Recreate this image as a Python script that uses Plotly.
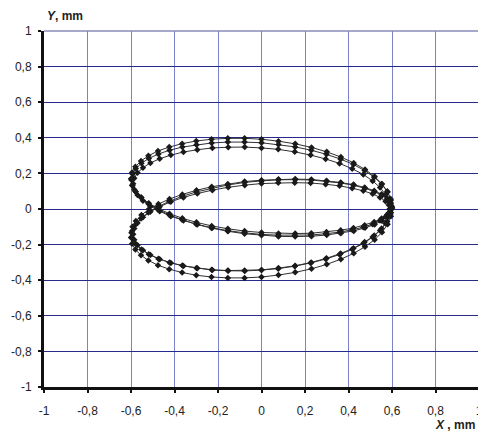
import plotly.graph_objects as go

# ---- data (three successive passes of the orbit) ----
x_pass1 = [0.598, 0.593, 0.578, 0.552, 0.518, 0.474, 0.423, 0.364, 0.299, 0.229, 0.155, 0.078,
           0.0, -0.078, -0.155, -0.229, -0.299, -0.364, -0.423, -0.474, -0.518, -0.552, -0.578, -0.593,
           -0.598, -0.593, -0.578, -0.552, -0.518, -0.474, -0.423, -0.364, -0.299, -0.229, -0.155, -0.078,
           0.0, 0.078, 0.155, 0.229, 0.299, 0.364, 0.423, 0.474, 0.518, 0.552, 0.578, 0.593,
           0.598, 0.593, 0.578, 0.552, 0.518, 0.474, 0.423, 0.364, 0.299, 0.229, 0.155, 0.078,
           0.0, -0.078, -0.155, -0.229, -0.299, -0.364, -0.423, -0.474, -0.518, -0.552, -0.578, -0.593,
           -0.598, -0.593, -0.578, -0.552, -0.518, -0.474, -0.423, -0.364, -0.299, -0.229, -0.155, -0.078,
           0.0, 0.078, 0.155, 0.229, 0.299, 0.364, 0.423, 0.474, 0.518, 0.552, 0.578, 0.593]
y_pass1 = [0.015, 0.058, 0.100, 0.140, 0.179, 0.216, 0.250, 0.280, 0.307, 0.330, 0.349, 0.362,
           0.372, 0.376, 0.376, 0.371, 0.361, 0.348, 0.330, 0.309, 0.284, 0.257, 0.227, 0.196,
           0.163, 0.130, 0.097, 0.064, 0.032, 0.002, -0.026, -0.052, -0.075, -0.095, -0.111, -0.124,
           -0.132, -0.137, -0.138, -0.136, -0.129, -0.119, -0.107, -0.091, -0.073, -0.053, -0.031, -0.008,
           0.015, 0.038, 0.061, 0.083, 0.103, 0.121, 0.137, 0.149, 0.159, 0.166, 0.168, 0.167,
           0.162, 0.154, 0.141, 0.125, 0.105, 0.082, 0.056, 0.028, -0.002, -0.034, -0.067, -0.100,
           -0.133, -0.166, -0.197, -0.227, -0.254, -0.279, -0.300, -0.318, -0.331, -0.341, -0.346, -0.346,
           -0.342, -0.332, -0.319, -0.300, -0.277, -0.250, -0.220, -0.186, -0.149, -0.110, -0.070, -0.028]

x_pass2 = [0.600, 0.595, 0.580, 0.554, 0.520, 0.476, 0.424, 0.365, 0.300, 0.230, 0.155, 0.078,
           0.0, -0.078, -0.155, -0.230, -0.300, -0.365, -0.424, -0.476, -0.520, -0.554, -0.580, -0.595,
           -0.600, -0.595, -0.580, -0.554, -0.520, -0.476, -0.424, -0.365, -0.300, -0.230, -0.155, -0.078,
           0.0, 0.078, 0.155, 0.230, 0.300, 0.365, 0.424, 0.476, 0.520, 0.554, 0.580, 0.595,
           0.600, 0.595, 0.580, 0.554, 0.520, 0.476, 0.424, 0.365, 0.300, 0.230, 0.155, 0.078,
           0.0, -0.078, -0.155, -0.230, -0.300, -0.365, -0.424, -0.476, -0.520, -0.554, -0.580, -0.595,
           -0.600, -0.595, -0.580, -0.554, -0.520, -0.476, -0.424, -0.365, -0.300, -0.230, -0.155, -0.078,
           0.0, 0.078, 0.155, 0.230, 0.300, 0.365, 0.424, 0.476, 0.520, 0.554, 0.580, 0.595]
y_pass2 = [0.005, 0.051, 0.096, 0.141, 0.183, 0.222, 0.259, 0.292, 0.321, 0.346, 0.366, 0.381,
           0.392, 0.397, 0.397, 0.392, 0.382, 0.367, 0.348, 0.326, 0.299, 0.270, 0.238, 0.205,
           0.170, 0.134, 0.099, 0.064, 0.029, -0.003, -0.033, -0.061, -0.086, -0.107, -0.125, -0.139,
           -0.148, -0.154, -0.155, -0.153, -0.146, -0.136, -0.123, -0.106, -0.087, -0.066, -0.043, -0.019,
           0.005, 0.029, 0.053, 0.076, 0.097, 0.116, 0.133, 0.146, 0.156, 0.163, 0.165, 0.164,
           0.158, 0.149, 0.135, 0.117, 0.096, 0.071, 0.043, 0.013, -0.019, -0.054, -0.089, -0.124,
           -0.160, -0.195, -0.228, -0.260, -0.289, -0.316, -0.338, -0.357, -0.372, -0.382, -0.387, -0.387,
           -0.382, -0.371, -0.356, -0.336, -0.311, -0.282, -0.249, -0.212, -0.173, -0.131, -0.086, -0.041]

x_pass3 = [0.590, 0.585, 0.570, 0.545, 0.511, 0.468, 0.417, 0.359, 0.295, 0.226, 0.153, 0.077,
           0.0, -0.077, -0.153, -0.226, -0.295, -0.359, -0.417, -0.468, -0.511, -0.545, -0.570, -0.585,
           -0.590, -0.585, -0.570, -0.545, -0.511, -0.468, -0.417, -0.359, -0.295, -0.226, -0.153, -0.077,
           0.0, 0.077, 0.153, 0.226, 0.295, 0.359, 0.417, 0.468, 0.511, 0.545, 0.570, 0.585,
           0.590, 0.585, 0.570, 0.545, 0.511, 0.468, 0.417, 0.359, 0.295, 0.226, 0.153, 0.077,
           0.0, -0.077, -0.153, -0.226, -0.295, -0.359, -0.417, -0.468, -0.511, -0.545, -0.570, -0.585,
           -0.590, -0.585, -0.570, -0.545, -0.511, -0.468, -0.417, -0.359, -0.295, -0.226, -0.153, -0.077,
           0.0, 0.077, 0.153, 0.226, 0.295, 0.359, 0.417, 0.468, 0.511, 0.545, 0.570, 0.585]
y_pass3 = [0.000, 0.041, 0.081, 0.121, 0.158, 0.194, 0.226, 0.256, 0.281, 0.303, 0.321, 0.335,
           0.343, 0.348, 0.347, 0.343, 0.333, 0.320, 0.303, 0.282, 0.259, 0.232, 0.204, 0.173,
           0.142, 0.110, 0.078, 0.046, 0.016, -0.013, -0.041, -0.065, -0.087, -0.106, -0.122, -0.134,
           -0.143, -0.147, -0.148, -0.146, -0.139, -0.130, -0.117, -0.102, -0.085, -0.065, -0.044, -0.022,
           0.000, 0.022, 0.044, 0.065, 0.085, 0.102, 0.117, 0.130, 0.139, 0.146, 0.148, 0.147,
           0.143, 0.134, 0.122, 0.106, 0.087, 0.065, 0.041, 0.013, -0.016, -0.046, -0.078, -0.110,
           -0.142, -0.173, -0.204, -0.232, -0.259, -0.282, -0.303, -0.320, -0.333, -0.343, -0.347, -0.348,
           -0.343, -0.335, -0.321, -0.303, -0.281, -0.256, -0.226, -0.194, -0.158, -0.121, -0.081, -0.041]

tick_vals = [-1, -0.8, -0.6, -0.4, -0.2, 0, 0.2, 0.4, 0.6, 0.8, 1]
tick_text = ["-1", "-0,8", "-0,6", "-0,4", "-0,2", "0", "0,2", "0,4", "0,6", "0,8", "1"]

x_all = x_pass1 + x_pass2 + x_pass3
y_all = y_pass1 + y_pass2 + y_pass3

fig = go.Figure()
fig.add_trace(go.Scatter(
    x=x_all, y=y_all, mode="lines+markers",
    line=dict(color="#303030", width=1),
    marker=dict(symbol="diamond", size=5, color="#1a1a1a"),
    showlegend=False, hoverinfo="skip"))

font = dict(family="Liberation Sans, Arial, sans-serif", size=12, color="#222222")

fig.update_layout(
    width=478, height=433,
    margin=dict(l=36, r=3, t=23, b=54),
    paper_bgcolor="white", plot_bgcolor="white",
    font=font,
    xaxis=dict(range=[-1, 1], tickvals=tick_vals, ticktext=tick_text,
               showgrid=True, gridcolor="#7d82cc", gridwidth=1, zeroline=False,
               showline=True, linecolor="#111111", linewidth=3,
               ticks="outside", ticklen=3, tickwidth=2, tickcolor="#111111",
               ticklabelstandoff=8, ticklabeloverflow="allow",
               tickfont=font, fixedrange=True),
    yaxis=dict(range=[-1, 1], tickvals=tick_vals, ticktext=tick_text,
               showgrid=True, gridcolor="#262b8a", gridwidth=1, zeroline=False,
               showline=True, linecolor="#111111", linewidth=3,
               ticks="outside", ticklen=3, tickwidth=2, tickcolor="#111111",
               ticklabelstandoff=4, ticklabeloverflow="allow",
               tickfont=font, fixedrange=True),
    shapes=[
        dict(type="line", xref="paper", yref="paper", x0=0, x1=1, y0=1, y1=1,
             line=dict(color="#8a8cb8", width=1.5), layer="below"),
        dict(type="line", xref="paper", yref="paper", x0=1, x1=1, y0=0, y1=1,
             line=dict(color="#8a8cb8", width=1.5), layer="below"),
    ],
    annotations=[
        dict(text="<b><i>Y</i>, mm</b>", xref="paper", yref="paper", x=0.002, y=1.042,
             xanchor="left", yanchor="middle", showarrow=False, font=font),
        dict(text="<b><i>X</i> , mm</b>", xref="paper", yref="paper", x=0.995, y=-0.107,
             xanchor="right", yanchor="middle", showarrow=False, font=font),
    ],
)

fig.write_html("out.html")
